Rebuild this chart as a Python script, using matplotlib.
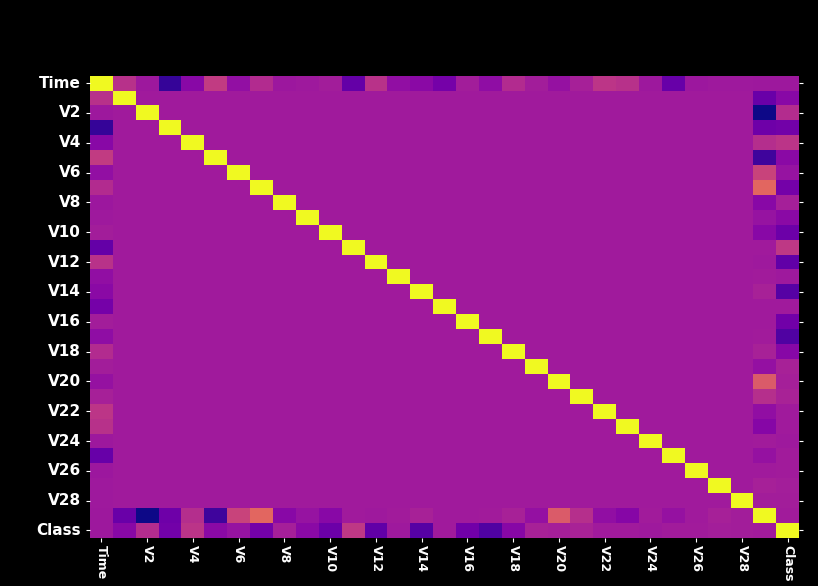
import numpy as np
import pandas as pd
import matplotlib
matplotlib.use("Agg")
import matplotlib.pyplot as plt
import seaborn as sns

labels = ["Time"] + [f"V{i}" for i in range(1, 29)] + ["Amount", "Class"]

# correlations of Time with V1..V28, Amount, Class
time_corr = [0.117, -0.011, -0.420, -0.105, 0.173, -0.063, 0.085, -0.020, -0.009, 0.010,
             -0.248, 0.124, -0.066, -0.099, -0.183, 0.012, -0.073, 0.090, 0.010, -0.051,
             0.030, 0.144, 0.120, -0.016, -0.233, -0.020, -0.005, -0.009, -0.011, -0.012]
# correlations of Amount with V1..V28, Class
amount_corr = [-0.228, -0.531, -0.211, 0.099, -0.386, 0.216, 0.397, -0.103, -0.044, -0.102,
               0.000, -0.010, 0.005, 0.034, -0.003, -0.004, 0.007, 0.036, -0.056, 0.339,
               0.106, -0.065, -0.113, 0.005, -0.048, -0.003, 0.029, 0.010, 0.006]
# correlations of Class with V1..V28
class_corr = [-0.101, 0.091, -0.193, 0.133, -0.095, -0.044, -0.187, 0.020, -0.098, -0.217,
              0.155, -0.261, -0.005, -0.303, -0.004, -0.197, -0.326, -0.111, 0.035, 0.020,
              0.040, 0.001, -0.003, -0.007, 0.003, 0.004, 0.018, 0.010]

n = len(labels)
corr = np.eye(n)
corr[0, 1:] = time_corr
corr[1:, 0] = time_corr
corr[29, 1:29] = amount_corr[:28]
corr[1:29, 29] = amount_corr[:28]
corr[29, 30] = corr[30, 29] = amount_corr[28]
corr[30, 1:29] = class_corr
corr[1:29, 30] = class_corr
df = pd.DataFrame(corr, index=labels, columns=labels)

fig = plt.figure(figsize=(8.18, 5.86), dpi=100, facecolor="black")
ax = fig.add_axes([0.110, 0.082, 0.867, 0.789])
ax.set_facecolor("black")
sns.heatmap(df, cmap="plasma", cbar=False, ax=ax, xticklabels=2, yticklabels=2)

ax.tick_params(colors="white", length=3, right=True)
ax.tick_params(axis="x", pad=2)
plt.setp(ax.get_xticklabels(), rotation=270, color="white", fontsize=9, fontweight="bold")
plt.setp(ax.get_yticklabels(), rotation=0, color="white", fontsize=11, fontweight="bold")

fig.savefig("out.png", facecolor="black")
